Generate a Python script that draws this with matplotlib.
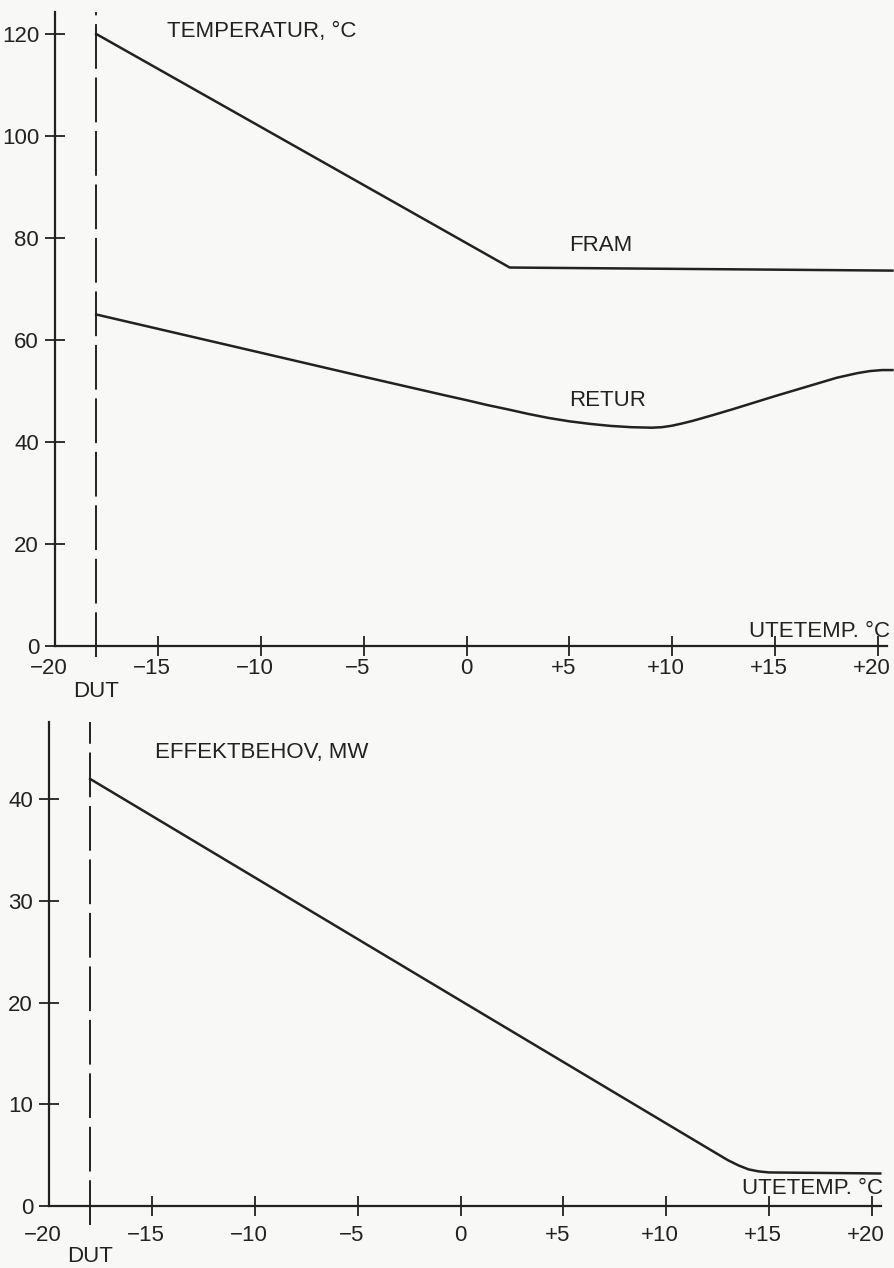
import matplotlib
matplotlib.use("Agg")
import matplotlib.pyplot as plt
from matplotlib import font_manager
from matplotlib.transforms import ScaledTranslation

# --- data ---
DUT = -18
x_ticks = [-20, -15, -10, -5, 0, 5, 10, 15, 20]
x_tick_labels = ["−20", "−15", "−10", "−5", "0", "+5", "+10", "+15", "+20"]

temp_ticks = [0, 20, 40, 60, 80, 100, 120]
power_ticks = [0, 10, 20, 30, 40]

fram_x = [-18, 2.1, 20.7]
fram_y = [120.0, 74.2, 73.6]

retur_x = [-18, -10, -5, -1, 0, 1, 2, 3, 4, 5, 6, 7, 8, 9, 9.5, 10, 10.5,
           11, 12, 13, 14, 15, 16, 17, 18, 19, 19.6, 20.2, 20.7]
retur_y = [65.0, 57.5, 52.8, 49.1, 48.2, 47.25, 46.4, 45.5, 44.7, 44.05,
           43.55, 43.15, 42.9, 42.8, 42.9, 43.2, 43.65, 44.15, 45.3, 46.5,
           47.75, 49.0, 50.2, 51.4, 52.6, 53.5, 53.9, 54.1, 54.1]

effekt_x = [-18, 0, 12, 13, 13.5, 14, 14.5, 15, 20.4]
effekt_y = [42.0, 20.2, 5.7, 4.5, 4.0, 3.6, 3.4, 3.3, 3.2]

INK = "#222222"
PAPER = "#f8f8f6"

avail = {f.name for f in font_manager.fontManager.ttflist}
main_font = "Liberation Sans Narrow" if "Liberation Sans Narrow" in avail else "Liberation Sans"
plt.rcParams["font.family"] = [main_font, "DejaVu Sans"]
FS = 16

W, H = 894, 1268
fig = plt.figure(figsize=(W / 100, H / 100), dpi=100, facecolor=PAPER)


def make_axes(left_px, right_px, bottom_px, top_px):
    return fig.add_axes([left_px / W, 1 - bottom_px / H,
                         (right_px - left_px) / W, (bottom_px - top_px) / H])


def style(ax, yticks, ymax, xpad):
    ax.set_facecolor("none")
    ax.set_xlim(-20, 20.45)
    ax.set_ylim(0, ymax)
    for s in ["top", "right"]:
        ax.spines[s].set_visible(False)
    for s in ["left", "bottom"]:
        ax.spines[s].set_linewidth(1.6)
        ax.spines[s].set_color(INK)
    ax.set_xticks(x_ticks)
    ax.set_xticklabels(x_tick_labels)
    ax.set_yticks(yticks)
    ax.tick_params(direction="inout", length=15, width=1.3, colors=INK,
                   labelsize=FS)
    ax.tick_params(axis="x", pad=xpad)
    ax.tick_params(axis="y", pad=4)
    ax.xaxis.get_major_ticks()[0].tick1line.set_visible(False)
    # the lettering sits a little left of each tick in the original
    shift = ScaledTranslation(-0.06, 0, fig.dpi_scale_trans)
    for lbl in ax.get_xticklabels():
        if lbl.get_text() != "0":
            lbl.set_transform(lbl.get_transform() + shift)


def dut_line(ax, y0, y1):
    ln, = ax.plot([DUT, DUT], [y0, y1], color=INK, lw=1.4, clip_on=False)
    ln.set_dashes((23, 4.5))


# ---------- top: temperatures ----------
ax1 = make_axes(55, 887.3, 646, 12)
style(ax1, temp_ticks, 124.3, 1)
dut_line(ax1, -2.1, 124.3)
ax1.plot(fram_x, fram_y, color=INK, lw=1.8, clip_on=False)
ax1.plot(retur_x, retur_y, color=INK, lw=1.8, clip_on=False)
ax1.text(-14.55, 120.4, "TEMPERATUR, °C", fontsize=FS, color=INK,
         ha="left", va="center")
ax1.text(5.0, 78.6, "FRAM", fontsize=FS, color=INK, ha="left", va="center")
ax1.text(5.0, 48.2, "RETUR", fontsize=FS, color=INK, ha="left", va="center")
ax1.text(20.58, 2.75, "UTETEMP. °C", fontsize=FS, color=INK,
         ha="right", va="center")
ax1.annotate("DUT", xy=(DUT, 0), xytext=(0, -32.4), textcoords="offset points",
             fontsize=FS, color=INK, ha="center", va="center")

# ---------- bottom: power demand ----------
ax2 = make_axes(49, 881.3, 1206, 722)
style(ax2, power_ticks, 47.6, 6)
dut_line(ax2, -1.9, 47.6)
ax2.plot(effekt_x, effekt_y, color=INK, lw=1.8, clip_on=False)
ax2.text(-14.85, 44.6, "EFFEKTBEHOV, MW", fontsize=FS, color=INK,
         ha="left", va="center")
ax2.text(20.53, 1.77, "UTETEMP. °C", fontsize=FS, color=INK,
         ha="right", va="center")
ax2.annotate("DUT", xy=(DUT, 0), xytext=(0, -36.7), textcoords="offset points",
             fontsize=FS, color=INK, ha="center", va="center")

fig.savefig("out.png", dpi=100, facecolor=PAPER)
